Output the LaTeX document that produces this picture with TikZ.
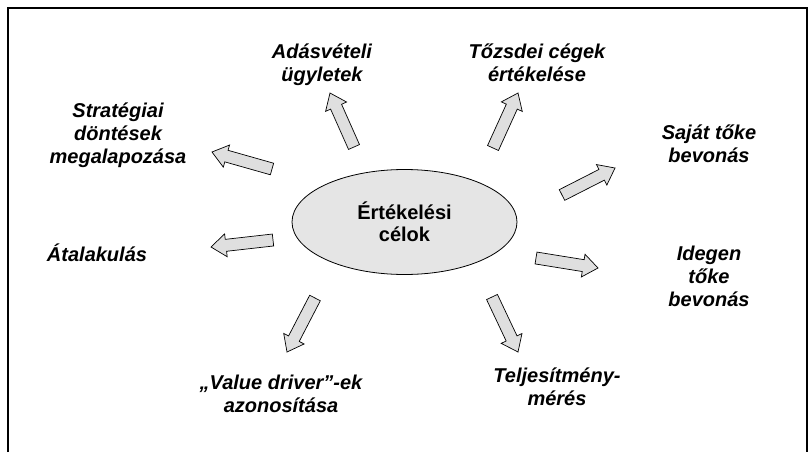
\documentclass[tikz,border=0pt]{standalone}
\usepackage{fontspec}
\setmainfont{Liberation Sans}
\usepackage{tikz}
\usetikzlibrary{calc, positioning, shapes.geometric}

\begin{document}
\begin{tikzpicture}[x=1pt, y=-1pt,
      goal/.style={font=\fontsize{20}{23}\selectfont\bfseries\itshape,
                   align=center, inner sep=0pt},
      centre/.style={draw, ellipse, fill=gray!20, line width=0.8pt,
                     minimum width=225pt, minimum height=105pt,
                     font=\fontsize{20}{22}\selectfont\bfseries, align=center},
      fat/.style={draw, fill=gray!25, line width=0.7pt, line join=miter,
                  to path={
                    ($(\tikztostart)!6pt!90:(\tikztotarget)$)
                    -- ($($(\tikztotarget)!15pt!(\tikztostart)$)!6pt!90:(\tikztotarget)$)
                    -- ($($(\tikztotarget)!15pt!(\tikztostart)$)!11.5pt!90:(\tikztotarget)$)
                    -- (\tikztotarget)
                    -- ($($(\tikztotarget)!15pt!(\tikztostart)$)!11.5pt!-90:(\tikztotarget)$)
                    -- ($($(\tikztotarget)!15pt!(\tikztostart)$)!6pt!-90:(\tikztotarget)$)
                    -- ($(\tikztostart)!6pt!-90:(\tikztotarget)$) -- cycle}}
    ]
      \useasboundingbox (0,0) rectangle (810,452);
      \draw[line width=1.2pt] (8,452) -- (8,8) -- (807,8) -- (807,452);

      \node[centre] (celok) at (404.5,222) {Értékelési\\célok};

      \node[goal] (adasvetel)  at (322,64.5)  {Adásvételi\\ügyletek};
      \node[goal] (tozsde)     at (537,62.5)  {Tőzsdei cégek\\értékelése};
      \node[goal] (strategia)  at (118,135.5) {Stratégiai\\döntések\\megalapozása};
      \node[goal] (sajat)      at (709,143.5) {Saját tőke\\bevonás};
      \node[goal] (atalakulas) at (97,253)    {Átalakulás};
      \node[goal] (idegen)     at (709,276.5) {Idegen\\tőke\\bevonás};
      \node[goal] (valuedrv)   at (281,394)   {„Value driver”-ek\\azonosítása};
      \node[goal] (teljesit)   at (557,386.5) {Teljesítmény-\\mérés};

      % arrow ends
      \coordinate (s1) at (354,147);  \coordinate (t1) at (330,93);
      \coordinate (s2) at (272,169);  \coordinate (t2) at (212,152);
      \coordinate (s3) at (273,240);  \coordinate (t3) at (211,247);
      \coordinate (s4) at (315,298);  \coordinate (t4) at (287,352);
      \coordinate (s5) at (492,297);  \coordinate (t5) at (518,352);
      \coordinate (s6) at (536,258);  \coordinate (t6) at (598,268);
      \coordinate (s7) at (562,195);  \coordinate (t7) at (615,168);
      \coordinate (s8) at (493,148);  \coordinate (t8) at (518,93);

      \draw[fat] (s1) to (t1);
      \draw[fat] (s2) to (t2);
      \draw[fat] (s3) to (t3);
      \draw[fat] (s4) to (t4);
      \draw[fat] (s5) to (t5);
      \draw[fat] (s6) to (t6);
      \draw[fat] (s7) to (t7);
      \draw[fat] (s8) to (t8);
\end{tikzpicture}
\end{document}
